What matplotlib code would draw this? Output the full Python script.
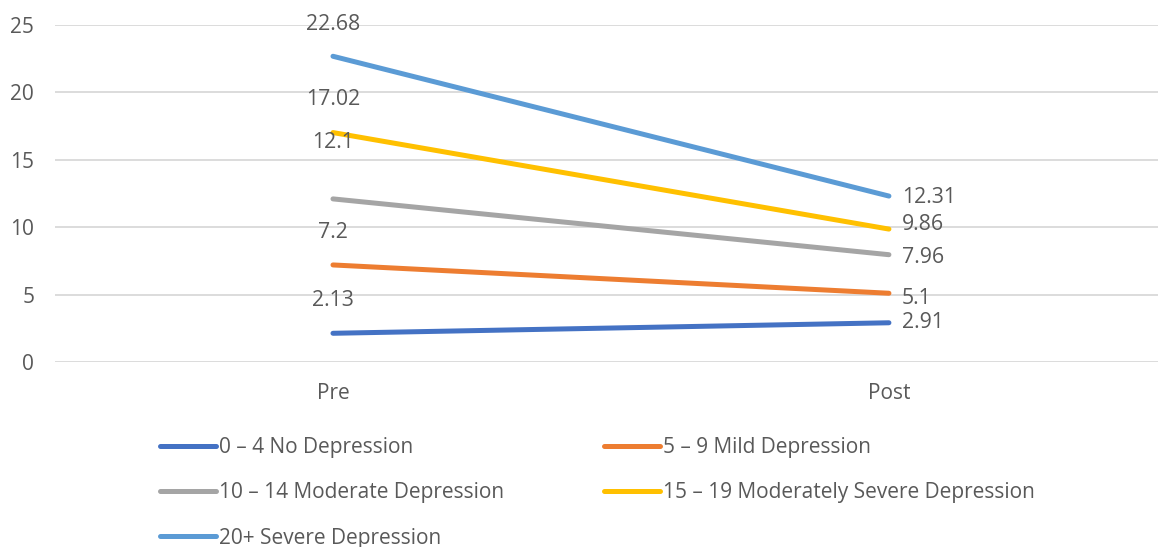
import matplotlib.pyplot as plt

# Данные: средние баллы до и после
categories = ['Pre', 'Post']
series_names = ['0 – 4 No Depression', '5 – 9 Mild Depression',
                '10 – 14 Moderate Depression', '15 – 19 Moderately Severe Depression',
                '20+ Severe Depression']
pre_values = [2.13, 7.2, 12.1, 17.02, 22.68]
post_values = [2.91, 5.1, 7.96, 9.86, 12.31]
colors = ['#4472C4', '#ED7D31', '#A5A5A5', '#FFC000', '#5B9BD5']

# смещения подписей (в пикселях) чтобы не налезали
pre_offsets = [(0, 33), (0, 32), (0, 56), (0, 33), (0, 32)]
post_offsets = [(13, 0), (13, -5), (13, -3), (13, 5), (13, -1)]

plt.rcParams['font.family'] = ['Open Sans', 'DejaVu Sans']
text_color = '#595959'

fig = plt.figure(figsize=(11.58, 5.47), dpi=100)
ax = fig.add_axes([55 / 1158, 185 / 547, 1 - 55 / 1158, 337 / 547])

x = list(range(len(categories)))
handles = []
for i, name in enumerate(series_names):
    ys = [pre_values[i], post_values[i]]
    h, = ax.plot(x, ys, color=colors[i], lw=3.6, solid_capstyle='round', label=name)
    handles.append(h)
    ax.annotate(f'{pre_values[i]:g}', (0, pre_values[i]), xytext=pre_offsets[i],
                textcoords='offset pixels', ha='center', va='center',
                fontsize=15.3, color=text_color)
    ax.annotate(f'{post_values[i]:g}', (1, post_values[i]), xytext=post_offsets[i],
                textcoords='offset pixels', ha='left', va='center',
                fontsize=15.3, color=text_color)

ax.set_xlim(-0.5, 1.484)
ax.set_ylim(0, 25)
ax.set_yticks([0, 5, 10, 15, 20, 25])
ax.set_xticks(x)
ax.set_xticklabels(categories)
ax.tick_params(axis='both', length=0, labelsize=15, labelcolor=text_color)
ax.tick_params(axis='x', pad=15)
ax.tick_params(axis='y', pad=15)
ax.grid(True, axis='y', color='#D9D9D9', lw=1.3)
ax.set_axisbelow(True)
for s in ax.spines.values():
    s.set_visible(False)

# порядок для легенды: заполнение по строкам
order = [0, 2, 4, 1, 3]
fig.legend([handles[k] for k in order], [series_names[k] for k in order],
           ncol=2, loc='upper left', bbox_to_anchor=(160 / 1158, 1 - 437 / 547),
           frameon=False, fontsize=15, labelcolor=text_color,
           handlelength=2.7, handletextpad=0.15, columnspacing=4.77,
           labelspacing=1.17, borderaxespad=0, borderpad=0)

plt.savefig('out.png', dpi=100)
